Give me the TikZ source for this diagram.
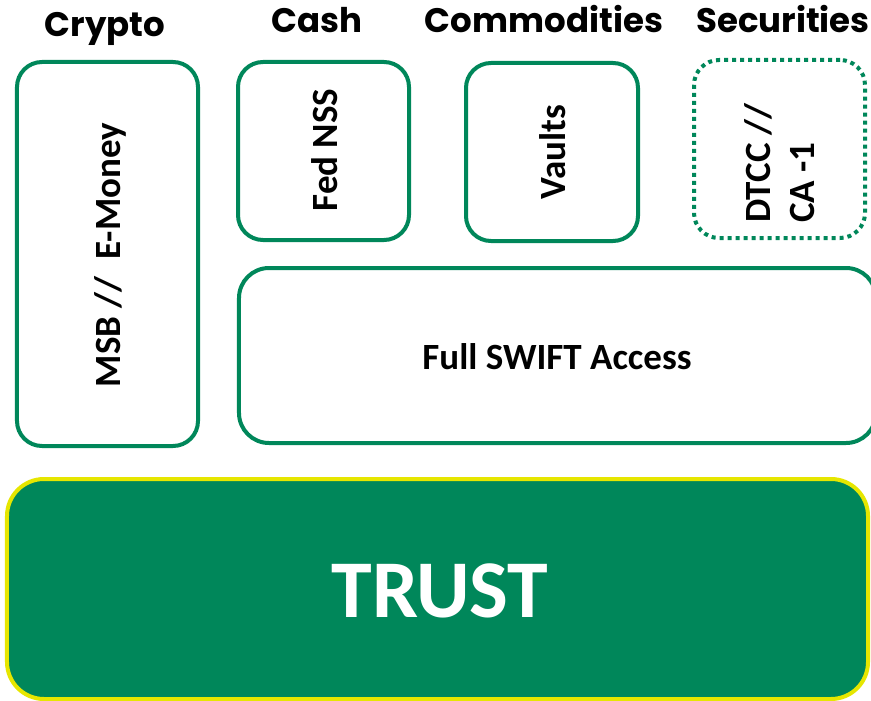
\documentclass[tikz,border=0pt]{standalone}
\usepackage{fontspec}
\setmainfont{Carlito}
\newfontfamily\hdrfont{Poppins}
\definecolor{tgreen}{RGB}{0,135,90}
\definecolor{tyellow}{RGB}{230,230,0}
\begin{document}
\begin{tikzpicture}[x=1bp,y=-1bp,
 box/.style={draw=tgreen, line width=4bp, rounded corners=25bp, inner sep=0pt, fill=white},
 dotbox/.style={box, dash pattern=on 4bp off 4bp},
 hdr/.style={font=\hdrfont\bfseries\fontsize{34bp}{40bp}\selectfont, anchor=base, inner sep=0pt},
 lbl/.style={font=\bfseries\fontsize{37bp}{44bp}\selectfont, inner sep=0pt},
]
\useasboundingbox (0,0) rectangle (871,701);
\clip (0,0) rectangle (871,701);
% headers
\node[hdr] (hcrypto) at (105,37) {Crypto};
\node[hdr] (hcash) at (317,33) {Cash};
\node[hdr] (hcomm) at (544,33) {Commodities};
\node[hdr] (hsec) at (783,33) {Securities};
% boxes
\node[box, minimum width=181bp, minimum height=384bp] (crypto) at (107.5,254) {};
\node[box, minimum width=171bp, minimum height=178bp] (fed) at (323.5,151) {};
\node[box, minimum width=172bp, minimum height=178bp] (vaults) at (552,152) {};
\node[dotbox, minimum width=171bp, minimum height=178bp] (dtcc) at (779.5,149) {};
\node[box, rounded corners=30bp, minimum width=637bp, minimum height=175bp] (swift) at (557.5,355.5) {};
\node[draw=tyellow, fill=tgreen, line width=4bp, rounded corners=37bp, inner sep=0pt, minimum width=861bp, minimum height=220bp] (trust) at (437.5,589) {};
% labels
\node[lbl, rotate=90] (cryptot) at (110,255) {MSB //\ \ E-Money};
\node[lbl, rotate=90] (fedt) at (325,150) {Fed NSS};
\node[lbl, rotate=90] (vaultst) at (553,152) {Vaults};
\node[lbl, rotate=90, align=left] (dtcct) at (780,163) {DTCC //\\CA -1};
\node[lbl] (swiftt) at (557,357) {Full SWIFT Access};
\node[font=\bfseries\fontsize{82bp}{90bp}\selectfont, text=white, inner sep=0pt] (trustt) at (440,591) {TRUST};
\end{tikzpicture}
\end{document}
